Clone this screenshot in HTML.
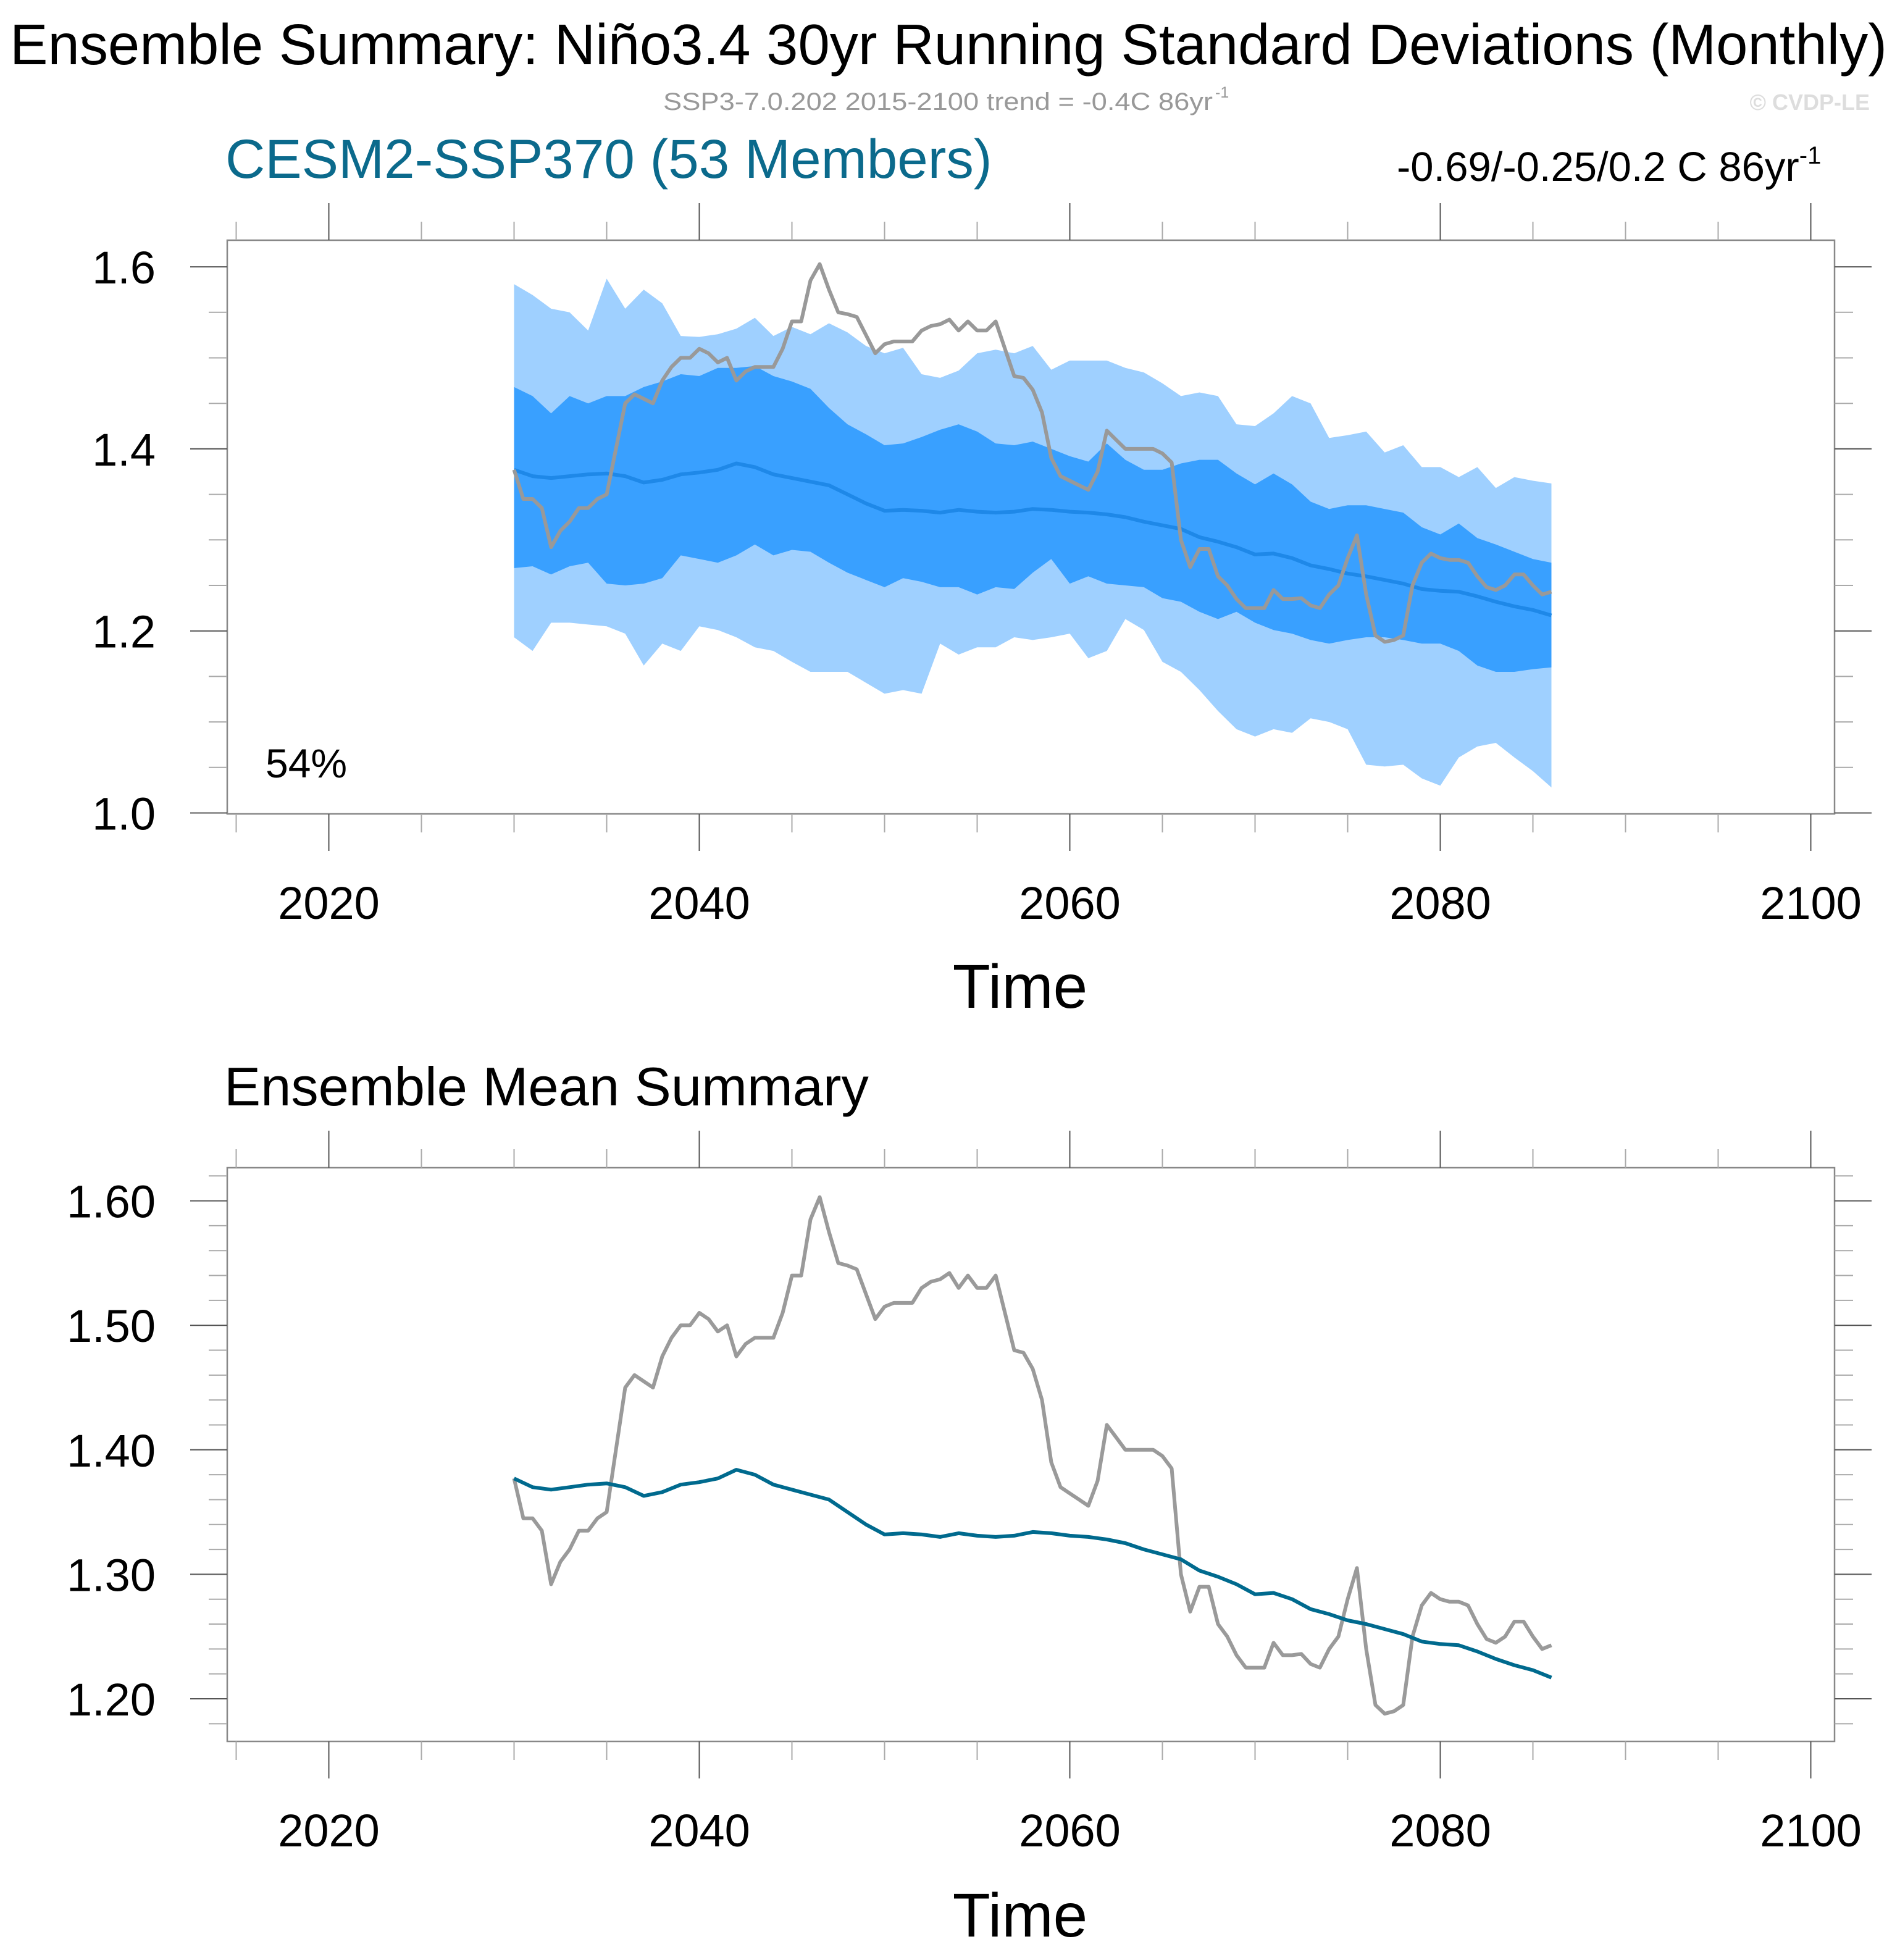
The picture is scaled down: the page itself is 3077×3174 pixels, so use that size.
<!DOCTYPE html>
<html><head><meta charset="utf-8">
<style>
html,body{margin:0;padding:0;background:#fff;}
svg{display:block;font-family:"Liberation Sans",Arial,sans-serif;}
</style></head>
<body>
<svg id="fig" xmlns="http://www.w3.org/2000/svg" width="3077" height="3174" viewBox="0 0 3077 3174">
<rect width="3077" height="3174" fill="#fff"/>
<text x="16" y="104" font-size="93" textLength="3040" lengthAdjust="spacingAndGlyphs">Ensemble Summary: Niño3.4 30yr Running Standard Deviations (Monthly)</text>
<text x="1074" y="178" font-size="40" fill="#999" textLength="890" lengthAdjust="spacingAndGlyphs">SSP3-7.0.202 2015-2100 trend = -0.4C 86yr</text>
<text x="1968" y="158" font-size="25" fill="#999">-1</text>
<text x="3028" y="178" font-size="36" font-weight="bold" fill="#ddd" text-anchor="end">© CVDP-LE</text>
<text x="365" y="288" font-size="89" fill="#0b6a8c">CESM2-SSP370 (53 Members)</text>
<text x="2262" y="293" font-size="67">-0.69/-0.25/0.2 C 86yr<tspan font-size="40" dy="-28">-1</tspan></text>
<text x="363" y="1790" font-size="88.6">Ensemble Mean Summary</text>
<g id="top"></g>
<g id="bot"></g>
</svg>
<script>
// ----- data -----
const bandYears = [2030,2031,2032,2033,2034,2035,2036,2037,2038,2039,2040,2041,2042,2043,2044,2045,2046,2047,2048,2049,2050,2051,2052,2053,2054,2055,2056,2057,2058,2059,2060,2061,2062,2063,2064,2065,2066,2067,2068,2069,2070,2071,2072,2073,2074,2075,2076,2077,2078,2079,2080,2081,2082,2083,2084,2085,2086];
const lightUpper = [1.581,1.569,1.554,1.550,1.530,1.587,1.554,1.575,1.560,1.524,1.523,1.526,1.532,1.544,1.524,1.534,1.526,1.538,1.528,1.513,1.505,1.511,1.482,1.478,1.486,1.505,1.509,1.505,1.513,1.487,1.497,1.497,1.497,1.489,1.484,1.472,1.458,1.462,1.458,1.427,1.425,1.439,1.458,1.450,1.412,1.415,1.419,1.396,1.404,1.380,1.380,1.369,1.380,1.357,1.369,1.365,1.362];
const darkUpper = [1.468,1.458,1.439,1.458,1.450,1.458,1.458,1.468,1.474,1.482,1.480,1.489,1.489,1.491,1.480,1.474,1.466,1.445,1.427,1.416,1.404,1.406,1.413,1.421,1.427,1.419,1.406,1.404,1.408,1.400,1.392,1.386,1.406,1.388,1.377,1.377,1.384,1.388,1.388,1.373,1.361,1.373,1.361,1.342,1.334,1.338,1.338,1.334,1.330,1.314,1.306,1.318,1.302,1.295,1.287,1.279,1.275];
const darkLower = [1.269,1.271,1.262,1.271,1.275,1.252,1.250,1.252,1.258,1.283,1.279,1.275,1.283,1.295,1.283,1.289,1.287,1.275,1.264,1.256,1.248,1.258,1.254,1.248,1.248,1.240,1.248,1.246,1.264,1.279,1.252,1.260,1.252,1.250,1.248,1.236,1.232,1.221,1.213,1.221,1.209,1.201,1.197,1.190,1.186,1.190,1.193,1.193,1.190,1.186,1.186,1.178,1.162,1.155,1.155,1.158,1.160];
const lightLower = [1.193,1.178,1.209,1.209,1.207,1.205,1.197,1.162,1.186,1.178,1.205,1.201,1.193,1.182,1.178,1.166,1.155,1.155,1.155,1.143,1.131,1.135,1.131,1.186,1.174,1.182,1.182,1.193,1.190,1.193,1.197,1.170,1.178,1.213,1.201,1.166,1.155,1.135,1.112,1.092,1.084,1.092,1.088,1.104,1.100,1.092,1.053,1.051,1.053,1.038,1.030,1.061,1.073,1.077,1.061,1.046,1.028];
const ensMean = [1.377,1.370,1.368,1.370,1.372,1.373,1.370,1.363,1.366,1.372,1.374,1.377,1.384,1.380,1.372,1.368,1.364,1.360,1.350,1.340,1.332,1.333,1.332,1.330,1.333,1.331,1.330,1.331,1.334,1.333,1.331,1.330,1.328,1.325,1.320,1.316,1.312,1.303,1.298,1.292,1.284,1.285,1.280,1.272,1.268,1.263,1.260,1.256,1.252,1.246,1.244,1.243,1.238,1.232,1.227,1.223,1.217];
const obsYears = [2030,2030.5,2031,2031.5,2032,2032.5,2033,2033.5,2034,2034.5,2035,2035.5,2036,2036.5,2037,2037.5,2038,2038.5,2039,2039.5,2040,2040.5,2041,2041.5,2042,2042.5,2043,2043.5,2044,2044.5,2045,2045.5,2046,2046.5,2047,2047.5,2048,2048.5,2049,2049.5,2050,2050.5,2051,2051.5,2052,2052.5,2053,2053.5,2054,2054.5,2055,2055.5,2056,2056.5,2057,2057.5,2058,2058.5,2059,2059.5,2060,2060.5,2061,2061.5,2062,2062.5,2063,2063.5,2064,2064.5,2065,2065.5,2066,2066.5,2067,2067.5,2068,2068.5,2069,2069.5,2070,2070.5,2071,2071.5,2072,2072.5,2073,2073.5,2074,2074.5,2075,2075.5,2076,2076.5,2077,2077.5,2078,2078.5,2079,2079.5,2080,2080.5,2081,2081.5,2082,2082.5,2083,2083.5,2084,2084.5,2085,2085.5,2086];
const obsValues = [1.377,1.345,1.345,1.335,1.292,1.31,1.32,1.335,1.335,1.345,1.35,1.40,1.45,1.46,1.455,1.45,1.475,1.49,1.50,1.50,1.51,1.505,1.495,1.50,1.475,1.485,1.49,1.49,1.49,1.51,1.54,1.54,1.585,1.603,1.575,1.55,1.548,1.545,1.525,1.505,1.515,1.518,1.518,1.518,1.53,1.535,1.537,1.542,1.53,1.54,1.53,1.53,1.54,1.51,1.48,1.478,1.465,1.44,1.39,1.37,1.365,1.36,1.355,1.375,1.42,1.41,1.40,1.40,1.40,1.40,1.395,1.385,1.30,1.27,1.29,1.29,1.26,1.25,1.235,1.225,1.225,1.225,1.245,1.235,1.235,1.236,1.228,1.225,1.24,1.25,1.28,1.305,1.24,1.195,1.188,1.19,1.195,1.25,1.275,1.285,1.28,1.278,1.278,1.275,1.26,1.248,1.245,1.25,1.262,1.262,1.25,1.24,1.243];
const xMajorTicks = [2020,2040,2060,2080,2100];
const topYLabels = ["1.0","1.2","1.4","1.6"];
const botYLabels = ["1.20","1.30","1.40","1.50","1.60"];

const NS="http://www.w3.org/2000/svg";
function mk(parent,tag,attrs){const e=document.createElementNS(NS,tag);for(const k in attrs)e.setAttribute(k,attrs[k]);parent.appendChild(e);return e;}
const X0=368,X1=2971;
function xs(yr){return 532.5+(yr-2020)*30;}

function drawPanel(g,prefix,top,bot,yOf,vmin,vmax,majorVals,labels,minorStep,minorStart,timeY){
  for(let yr=2015;yr<=2100;yr+=5){
    const major=xMajorTicks.indexOf(yr)>=0;
    const L=major?60:30;const x=xs(yr);
    const t1=mk(g,'line',{x1:x,x2:x,y1:top-L,y2:top,stroke:major?'#555':'#aaa','stroke-width':2});
    
    
    const t2=mk(g,'line',{x1:x,x2:x,y1:bot,y2:bot+L,stroke:major?'#555':'#aaa','stroke-width':2});
    
    
  }
  xMajorTicks.forEach(yr=>{
    const t=mk(g,'text',{x:xs(yr),y:bot+170,'font-size':74,'text-anchor':'middle'});t.textContent=yr;
    
    
  });
  for(let v=minorStart;v<=vmax+1e-9;v+=minorStep){
    const y=yOf(v);
    const isMaj=majorVals.some(m=>Math.abs(m-v)<1e-6);
    const L=isMaj?60:30;
    const a=mk(g,'line',{x1:X0-L,x2:X0,y1:y,y2:y,stroke:isMaj?'#555':'#aaa','stroke-width':2});
    
    
    const b=mk(g,'line',{x1:X1,x2:X1+L,y1:y,y2:y,stroke:isMaj?'#555':'#aaa','stroke-width':2});
    
    
  }
  majorVals.forEach((v,i)=>{
    const t=mk(g,'text',{x:252,y:yOf(v)+27,'font-size':74,'text-anchor':'end'});t.textContent=labels[i];
    
    
  });
  const tt=mk(g,'text',{x:1652,y:timeY,'font-size':100,'text-anchor':'middle'});tt.textContent='Time';
  
  
}
function pathLine(xsArr,vals,yOf){return xsArr.map((yr,i)=>(i?'L':'M')+xs(yr).toFixed(1)+','+yOf(vals[i]).toFixed(1)).join('');}
function band(up,lo,yOf){
  let d=bandYears.map((yr,i)=>(i?'L':'M')+xs(yr).toFixed(1)+','+yOf(up[i]).toFixed(1)).join('');
  for(let i=bandYears.length-1;i>=0;i--)d+='L'+xs(bandYears[i]).toFixed(1)+','+yOf(lo[i]).toFixed(1);
  return d+'Z';
}

// top panel
const gT=document.getElementById('top');
const T0=389,T1=1318;
const yT=v=>1316.5-(v-1.0)*1474;
let p=mk(gT,'path',{d:band(lightUpper,lightLower,yT),fill:'#9fd0ff'});


p=mk(gT,'path',{d:band(darkUpper,darkLower,yT),fill:'#39a0ff'});


p=mk(gT,'path',{d:pathLine(bandYears,ensMean,yT),fill:'none',stroke:'#1e88e8','stroke-width':6,'stroke-linejoin':'round'});


p=mk(gT,'path',{d:pathLine(obsYears,obsValues,yT),fill:'none',stroke:'#999','stroke-width':6,'stroke-linejoin':'round'});


p=mk(gT,'rect',{x:X0,y:T0,width:X1-X0,height:T1-T0,fill:'none',stroke:'#888','stroke-width':2.5});


drawPanel(gT,'top',T0,T1,yT,1.0,1.63,[1.0,1.2,1.4,1.6],topYLabels,0.05,1.0,1632);
p=mk(gT,'text',{x:430,y:1259,'font-size':66});p.textContent='54%';



// bottom panel
const gB=document.getElementById('bot');
const B0=1891,B1=2820;
const yB=v=>1944.6-(v-1.6)*2016;
p=mk(gB,'path',{d:pathLine(obsYears,obsValues,yB),fill:'none',stroke:'#9a9a9a','stroke-width':6,'stroke-linejoin':'round'});


p=mk(gB,'path',{d:pathLine(bandYears,ensMean,yB),fill:'none',stroke:'#006a8e','stroke-width':6,'stroke-linejoin':'round'});


p=mk(gB,'rect',{x:X0,y:B0,width:X1-X0,height:B1-B0,fill:'none',stroke:'#888','stroke-width':2.5});


drawPanel(gB,'bottom',B0,B1,yB,1.17,1.626,[1.2,1.3,1.4,1.5,1.6],botYLabels,0.02,1.18,3136);
</script>
</body></html>
